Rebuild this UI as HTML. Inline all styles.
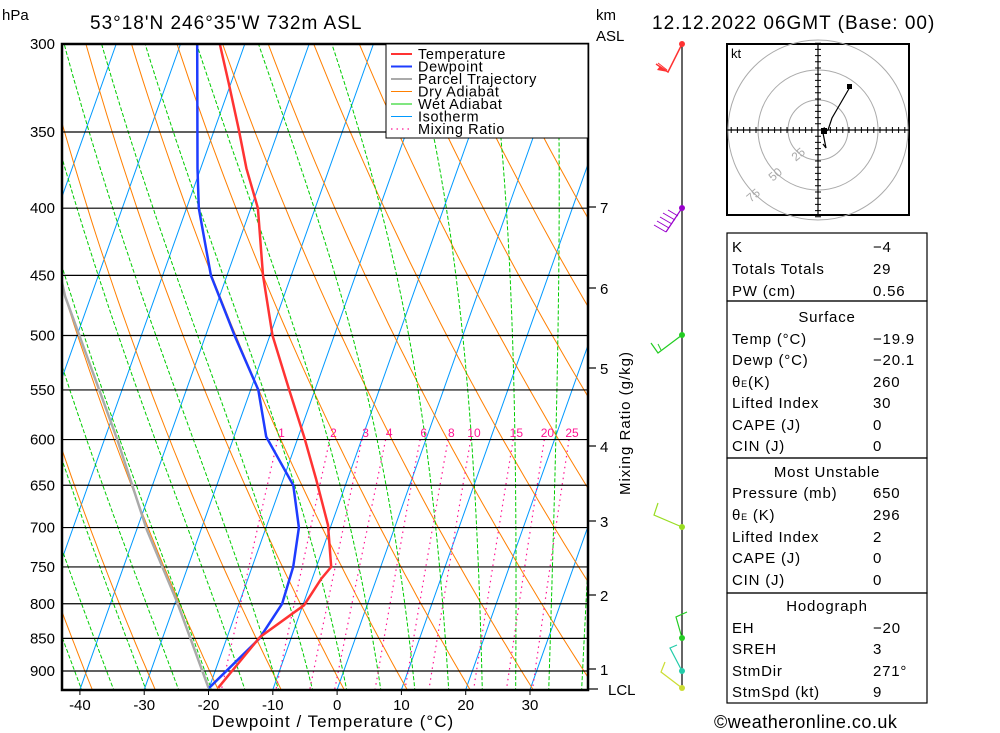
<!DOCTYPE html>
<html><head><meta charset="utf-8">
<style>
html,body{margin:0;padding:0;background:#fff;}
svg{display:block;font-family:"Liberation Sans",sans-serif;}
</style></head>
<body>
<svg id="chart" width="1000" height="733" viewBox="0 0 1000 733" xmlns="http://www.w3.org/2000/svg">
<defs><clipPath id="plotclip"><rect x="62" y="44" width="526" height="646"/></clipPath></defs>
<g id="bg" clip-path="url(#plotclip)"></g>
<g id="data" clip-path="url(#plotclip)"></g>
<g id="axes"></g>
</svg>
<script>
// ---- data ----
const tempP = [300,321,348,373,400,450,500,550,597,643,697,750,766,802,848,927];
const tempT = [-53.9,-50.4,-46.3,-42.9,-38.9,-34.4,-29.6,-24.0,-19.1,-14.9,-10.5,-7.7,-8.6,-9.8,-14.9,-18.6];
const dewP = [300,373,400,450,500,550,597,650,700,750,800,850,927];
const dewT = [-57.4,-50.5,-48.1,-42.5,-35.5,-28.8,-25.0,-18.1,-14.9,-13.6,-13.3,-14.9,-20.0];
const parcelP = [927,798,703,600,467,400];
const parcelT = [-20.1,-29.7,-38.4,-48.0,-64.0,-72];
const pressureTicks = [300,350,400,450,500,550,600,650,700,750,800,850,900];
const tempTicks = [-40,-30,-20,-10,0,10,20,30];
const mixRatios = [1,2,3,4,6,8,10,15,20,25];
const kmLabels = ["7","6","5","4","3","2","1"];
const kmY = [207,288,368,446,521,595,669];

// ---- axis functions ----
const X0=62,X1=588,Y0=44,Y1=690;
function yP(p){return 44+570.7*Math.log(p/300);}
function xT(t,p){return 337+6.43*t+0.355*(690-yP(p));}
const NS="http://www.w3.org/2000/svg";
function mk(parent,tag,attrs){const e=document.createElementNS(NS,tag);for(const k in attrs)e.setAttribute(k,attrs[k]);parent.appendChild(e);return e;}
const bg=document.getElementById('bg'),dg=document.getElementById('data'),ax=document.getElementById('axes'),svg=document.getElementById('chart');

// isotherms
for(let t=-120;t<=50;t+=10){
  const l=mk(bg,'line',{x1:xT(t,930),y1:yP(930),x2:xT(t,300),y2:yP(300),stroke:'#0099ff','stroke-width':1});
  
  
}
// dry adiabats
for(let th=200;th<=500;th+=10){
  let pts=[];for(let p=300;p<=935;p+=10){const T=th*Math.pow(p/1000,0.286)-273.15;pts.push(xT(T,p).toFixed(1)+','+yP(p).toFixed(1));}
  const l=mk(bg,'polyline',{points:pts.join(' '),fill:'none',stroke:'#ff7f00','stroke-width':1});
  
  
}
// moist adiabats
function es(T){return 6.112*Math.exp(17.67*T/(T+243.5));}
for(let t0=-60;t0<=40;t0+=5){
  let T=t0+273.15,pts=[];
  for(let p=1000;p>=295;p-=2){
    const tc=T-273.15;if(p<=935)pts.push(xT(tc,p).toFixed(1)+','+yP(p).toFixed(1));
    const e=es(tc),rs=0.622*e/(p-e),Lv=2.5e6,Rd=287,cp=1004;
    const dTdp=(Rd*T+Lv*rs)/(p*(cp+Lv*Lv*rs*0.622/(Rd*T*T)));
    T-=dTdp*2;
  }
  const l=mk(bg,'polyline',{points:pts.join(' '),fill:'none',stroke:'#00cc00','stroke-width':1,'stroke-dasharray':'4,2'});
  
  
}
// mixing ratio
function tdw(w,p){const e=w*p/(622+w),a=Math.log(e/6.112);let T=243.5*a/(17.67-a);if(T>0)T*=1.12;return T;}
mixRatios.forEach(w=>{
  let pts=[];for(let p=600;p<=935;p+=5){pts.push(xT(tdw(w,p),p).toFixed(1)+','+yP(p).toFixed(1));}
  const l=mk(bg,'polyline',{points:pts.join(' '),fill:'none',stroke:'#ff1493','stroke-width':1.2,'stroke-dasharray':'1.5,4'});
  
  
  const tx=mk(bg,'text',{x:xT(tdw(w,590),600)+5,y:437,'font-size':12,fill:'#ff1493','text-anchor':'middle'});tx.textContent=w;
  
  
});
// isobars
pressureTicks.forEach(p=>{
  const l=mk(bg,'line',{x1:X0,x2:X1,y1:yP(p),y2:yP(p),stroke:'#000','stroke-width':1.2});
  
  
  const t=mk(ax,'text',{x:55,y:yP(p)+5,'font-size':15,'text-anchor':'end'});t.textContent=p;
  
  
});
// profiles
function prof(P,T,col,w,name){
  const pts=P.map((p,i)=>xT(T[i],p).toFixed(1)+','+yP(p).toFixed(1)).join(' ');
  const l=mk(dg,'polyline',{points:pts,fill:'none',stroke:col,'stroke-width':w});
  
  
}
prof(parcelP,parcelT,'#aaaaaa',2.5,'parcel-trajectory');
prof(dewP,dewT,'#1e3cff',2.5,'dewpoint-line');
prof(tempP,tempT,'#ff3333',2.5,'temperature-line');

// legend
const lg=mk(svg,'g',{});


mk(lg,'rect',{x:386,y:44,width:202,height:94,fill:'#fff',stroke:'#000','stroke-width':1});
const leg=[['Temperature','#ff3333',2,''],['Dewpoint','#1e3cff',2,''],['Parcel Trajectory','#aaaaaa',2,''],['Dry Adiabat','#ff7f00',1,''],['Wet Adiabat','#00cc00',1,''],['Isotherm','#0099ff',1,''],['Mixing Ratio','#ff1493',1.2,'1.5,4']];
leg.forEach((d,i)=>{const y=54+i*12.5;
  mk(lg,'line',{x1:391,x2:412,y1:y,y2:y,stroke:d[1],'stroke-width':d[2],'stroke-dasharray':d[3]||'none'});
  const t=mk(lg,'text',{x:418,y:y+5,'font-size':14.5,'letter-spacing':'0.6'});t.textContent=d[0];
  
  
});
// frame
mk(ax,'rect',{x:X0,y:Y0,width:X1-X0,height:Y1-Y0,fill:'none',stroke:'#000','stroke-width':2.5});
tempTicks.forEach(t=>{const x=xT(t,930);const tx=mk(ax,'text',{x:x,y:710,'font-size':15,'text-anchor':'middle'});tx.textContent=t;
  
  
  mk(ax,'line',{x1:x,x2:x,y1:690,y2:695,stroke:'#000'});
});
kmLabels.forEach((k,i)=>{mk(ax,'line',{x1:588,x2:596,y1:kmY[i],y2:kmY[i],stroke:'#000','stroke-width':1.2});
  const t=mk(ax,'text',{x:600,y:kmY[i]+6,'font-size':15});t.textContent=k;
  
  
});
mk(ax,'line',{x1:588,x2:598,y1:689,y2:689,stroke:'#000','stroke-width':1.2});
</script>
<svg style="position:absolute;left:0;top:0" width="1000" height="733" xmlns="http://www.w3.org/2000/svg" font-family="Liberation Sans, sans-serif">
<text x="608" y="695" font-size="15">LCL</text>
<text x="2" y="20" font-size="15">hPa</text>
<text x="90" y="29" font-size="19" letter-spacing="1">53°18'N  246°35'W  732m  ASL</text>
<text x="596" y="20" font-size="15">km</text>
<text x="596" y="41" font-size="15">ASL</text>
<text x="652" y="29" font-size="19" letter-spacing="1">12.12.2022 06GMT (Base: 00)</text>
<text x="333" y="727" font-size="17" text-anchor="middle" letter-spacing="1">Dewpoint / Temperature (°C)</text>
<text transform="translate(630,423) rotate(-90)" font-size="15" text-anchor="middle" letter-spacing="1">Mixing Ratio (g/kg)</text>
<text x="714" y="728" font-size="18" letter-spacing="0.5">©weatheronline.co.uk</text>
<g>
<line x1="682" y1="44" x2="682" y2="690" stroke="#000" stroke-width="1.2"/>
<polyline points="682,44 668,72 656,64" fill="none" stroke="#ff3333" stroke-width="1.5"/><polygon points="668,72 660,66 657,70" fill="#ff3333"/><line x1="667" y1="70" x2="658" y2="63" stroke="#ff3333"/>
<circle cx="682" cy="44" r="3" fill="#ff3333"/>
<polyline points="682,208 666,232" fill="none" stroke="#9900cc" stroke-width="1.2"/>
<path d="M666,232 l-12,-7 M669,228 l-12,-7 M672,224 l-12,-7 M675,220 l-12,-7 M678,216 l-10,-6" stroke="#9900cc"/>
<circle cx="682" cy="208" r="3" fill="#9900cc"/>
<polyline points="682,335 658,353 651,343" fill="none" stroke="#22cc22" stroke-width="1.2"/><line x1="661" y1="350" x2="658" y2="344" stroke="#22cc22"/>
<circle cx="682" cy="335" r="3" fill="#22cc22"/>
<polyline points="682,527 654,515 658,503" fill="none" stroke="#99dd22" stroke-width="1.2"/>
<circle cx="682" cy="527" r="3" fill="#99dd22"/>
<polyline points="682,638 676,617 687,612 M676,617 672,610" fill="none" stroke="#22cc22" stroke-width="1.2"/>
<circle cx="682" cy="638" r="3" fill="#22cc22"/>
<polyline points="682,671 670,648 677,645" fill="none" stroke="#22ccaa" stroke-width="1.2"/>
<circle cx="682" cy="671" r="3" fill="#22ccaa"/>
<polyline points="682,688 661,672 665,662 M682,688 656,678 661,672" fill="none" stroke="#ccdd33" stroke-width="1.2"/>
<circle cx="682" cy="688" r="3" fill="#ccdd33"/>
</g>
<g>
<rect x="727" y="44" width="182" height="171" fill="#fff" stroke="#000" stroke-width="2"/>
<circle cx="818" cy="130" r="30" fill="none" stroke="#aaa"/>
<circle cx="818" cy="130" r="60" fill="none" stroke="#aaa"/>
<circle cx="818" cy="130" r="90" fill="none" stroke="#aaa"/>
<line x1="727" y1="130" x2="909" y2="130" stroke="#000" stroke-width="1.2"/>
<line x1="818" y1="44" x2="818" y2="215" stroke="#000" stroke-width="1.2"/>
<path id="ticks" stroke="#000" stroke-width="1"/>
<text x="731" y="58" font-size="13">kt</text>
<text x="790" y="158" font-size="12" fill="#aaa" transform="rotate(-40 798 152)">25</text>
<text x="767" y="178" font-size="12" fill="#aaa" transform="rotate(-40 775 172)">50</text>
<text x="745" y="199" font-size="12" fill="#aaa" transform="rotate(-40 753 193)">75</text>
<polyline points="850,87 832,118 828,130 823,133 826,148 823,144" fill="none" stroke="#000" stroke-width="1.2"/>
<rect x="847" y="84" width="5" height="5" fill="#000"/>
<rect x="821" y="128" width="6" height="6" fill="#000"/>
</g>
<g font-size="15" letter-spacing="0.8">
<rect x="727" y="233" width="200" height="68" fill="none" stroke="#000" stroke-width="1.2"/>
<rect x="727" y="301" width="200" height="157" fill="none" stroke="#000" stroke-width="1.2"/>
<rect x="727" y="458" width="200" height="135" fill="none" stroke="#000" stroke-width="1.2"/>
<rect x="727" y="593" width="200" height="110" fill="none" stroke="#000" stroke-width="1.2"/>
<text x="732" y="252">K</text><text x="873" y="252">−4</text>
<text x="732" y="274">Totals Totals</text><text x="873" y="274">29</text>
<text x="732" y="296">PW (cm)</text><text x="873" y="296">0.56</text>
<text x="827" y="322" text-anchor="middle">Surface</text>
<text x="732" y="344">Temp (°C)</text><text x="873" y="344">−19.9</text>
<text x="732" y="365">Dewp (°C)</text><text x="873" y="365">−20.1</text>
<text x="732" y="387">θ<tspan font-size="9">E</tspan>(K)</text><text x="873" y="387">260</text>
<text x="732" y="408">Lifted Index</text><text x="873" y="408">30</text>
<text x="732" y="430">CAPE (J)</text><text x="873" y="430">0</text>
<text x="732" y="451">CIN (J)</text><text x="873" y="451">0</text>
<text x="827" y="477" text-anchor="middle">Most Unstable</text>
<text x="732" y="498">Pressure (mb)</text><text x="873" y="498">650</text>
<text x="732" y="520">θ<tspan font-size="9">E</tspan> (K)</text><text x="873" y="520">296</text>
<text x="732" y="542">Lifted Index</text><text x="873" y="542">2</text>
<text x="732" y="563">CAPE (J)</text><text x="873" y="563">0</text>
<text x="732" y="585">CIN (J)</text><text x="873" y="585">0</text>
<text x="827" y="611" text-anchor="middle">Hodograph</text>
<text x="732" y="633">EH</text><text x="873" y="633">−20</text>
<text x="732" y="654">SREH</text><text x="873" y="654">3</text>
<text x="732" y="676">StmDir</text><text x="873" y="676">271°</text>
<text x="732" y="697">StmSpd (kt)</text><text x="873" y="697">9</text>
</g>
</svg>
<script>
(function(){let d='';for(let i=-14;i<=14;i++){if(i==0)continue;const x=818+i*6.2,y=130+i*6.2;d+=`M${x},127 v6 M815,${y} h6 `;}document.getElementById('ticks').setAttribute('d',d);})();
</script>
</body></html>
